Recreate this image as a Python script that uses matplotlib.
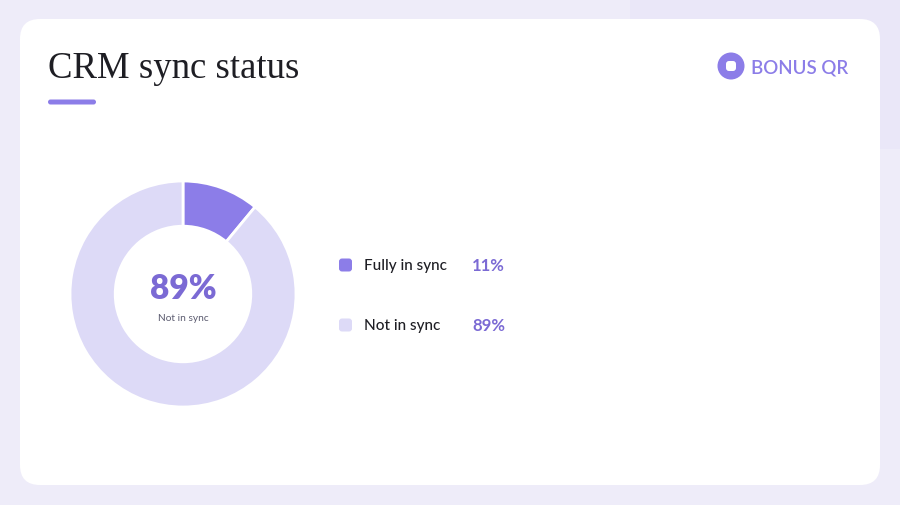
import matplotlib
matplotlib.use("Agg")
import matplotlib.pyplot as plt
from matplotlib.patches import FancyBboxPatch, Circle, Rectangle

# ── Data ────────────────────────────────────────────────────────────────
labels = ["Fully in sync", "Not in sync"]
values = [11, 89]
colors = ["#8c7de8", "#dddaf7"]
title = "CRM sync status"
center_value = "89%"
center_label = "Not in sync"

W, H = 900, 506
fig = plt.figure(figsize=(W / 100, H / 100), dpi=100)
fig.patch.set_facecolor("#eeecf9")

# background / card layer in pixel coords (y down)
bg = fig.add_axes([0, 0, 1, 1])
bg.set_xlim(0, W)
bg.set_ylim(H, 0)
bg.axis("off")

bg.add_patch(Rectangle((630, 0), 270, 150, color="#eae7f8", lw=0, zorder=0))
bg.add_patch(FancyBboxPatch((20, 20), 860, 466,
                            boxstyle="round,pad=0,rounding_size=20",
                            fc="white", ec="none", zorder=1))

# title + accent bar
bg.text(48, 69, title, fontsize=26.5, family="Liberation Serif",
        color="#1e1e24", va="center", ha="left", zorder=2)
bg.add_patch(FancyBboxPatch((48, 100.5), 48, 5,
                            boxstyle="round,pad=0,rounding_size=2.5",
                            fc="#8c7de8", ec="none", zorder=2))

# logo
bg.add_patch(Circle((731, 67), 13.5, fc="#8c7de8", ec="none", zorder=2))
bg.add_patch(FancyBboxPatch((726, 62), 10, 10,
                            boxstyle="round,pad=0,rounding_size=3",
                            fc="white", ec="none", zorder=3))
bg.text(751, 68, "BONUS QR", fontsize=13.5, family="Lato", fontweight="semibold",
        color="#8c7de8", va="center", ha="left", zorder=2)

# legend
for i, (lab, val, col) in enumerate(zip(labels, values, colors)):
    y = 266 + i * 60
    bg.add_patch(FancyBboxPatch((339, y - 6.5), 13, 13,
                                boxstyle="round,pad=0,rounding_size=3",
                                fc=col, ec="none", zorder=2))
    bg.text(364, y, lab, fontsize=11, family="Lato", fontweight="medium",
            color="#1e1e24", va="center", ha="left", zorder=2)
    bg.text(472, y, f"{val}%", fontsize=12, family="Lato", fontweight="bold",
            color="#7b6ad4", va="center", ha="left", zorder=2)

# donut
cx, cy, r = 183, 295, 113
ax = fig.add_axes([(cx - r) / W, (H - cy - r) / H, 2 * r / W, 2 * r / H])
ax.pie(values, colors=colors, startangle=90, counterclock=False, radius=1,
       wedgeprops=dict(width=0.4, edgecolor="white", linewidth=2))
ax.set_xlim(-1, 1)
ax.set_ylim(-1, 1)
ax.set_aspect("auto")
ax.axis("off")
ax.text(0, 0.05, center_value, fontsize=24, family="Lato", fontweight="heavy",
        color="#7b6ad4", ha="center", va="center")
ax.text(0, -0.21, center_label, fontsize=7.3, family="Lato",
        color="#5c5c70", ha="center", va="center")

fig.savefig("out.png", dpi=100, facecolor=fig.get_facecolor())
